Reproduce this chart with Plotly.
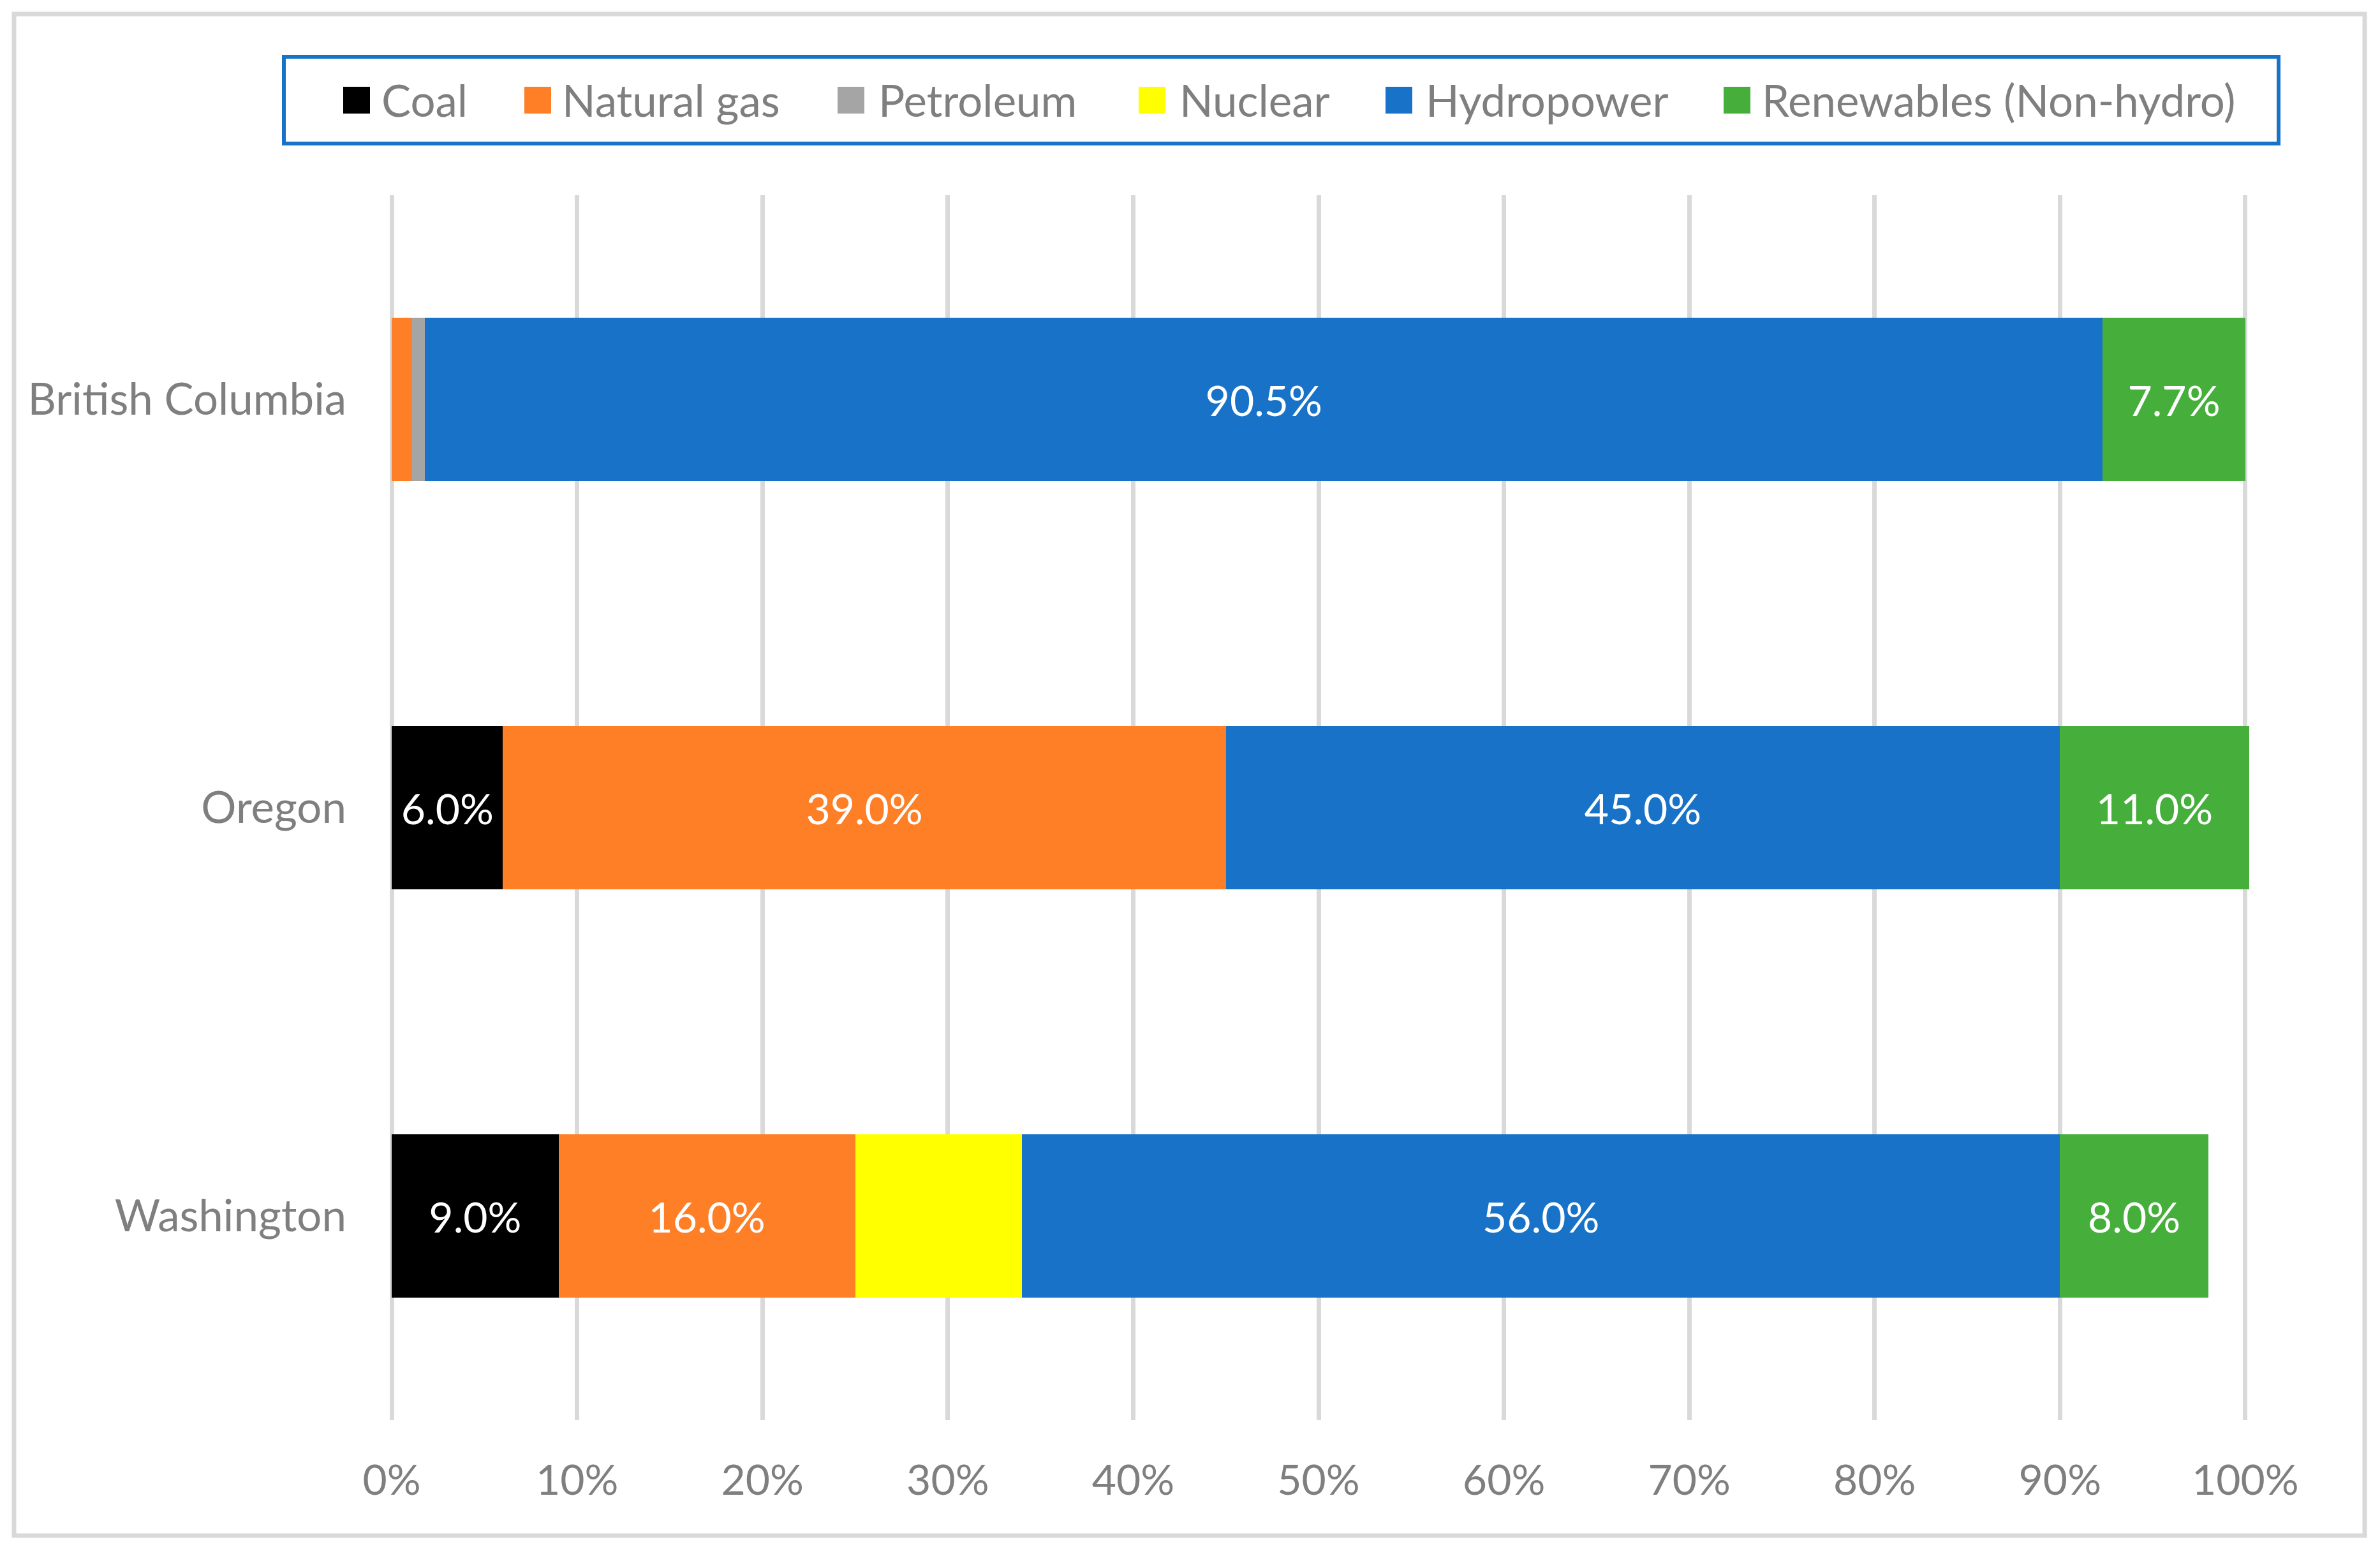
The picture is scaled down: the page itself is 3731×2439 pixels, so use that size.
import plotly.graph_objects as go

# ---------------- data ----------------
states = ["British Columbia", "Oregon", "Washington"]
sources = ["Coal", "Natural gas", "Petroleum", "Nuclear", "Hydropower", "Renewables (Non-hydro)"]

coal = [0.0, 6.0, 9.0]
natural_gas = [1.1, 39.0, 16.0]
petroleum = [0.7, 0.0, 0.0]
nuclear = [0.0, 0.0, 9.0]
hydropower = [90.5, 45.0, 56.0]
renewables = [7.7, 10.2, 8.0]

coal_labels = ["", "6.0%", "9.0%"]
natural_gas_labels = ["", "39.0%", "16.0%"]
petroleum_labels = ["", "", ""]
nuclear_labels = ["", "", ""]
hydropower_labels = ["90.5%", "45.0%", "56.0%"]
renewables_labels = ["7.7%", "11.0%", "8.0%"]

tick_values = [0, 10, 20, 30, 40, 50, 60, 70, 80, 90, 100]
tick_labels = ["0%", "10%", "20%", "30%", "40%", "50%", "60%", "70%", "80%", "90%", "100%"]

colors = ["#000000", "#FF7F27", "#A5A5A5", "#FFFF00", "#1873C8", "#46AF3C"]

# ---------------- layout constants ----------------
W, H = 3731, 2439
OFF = 8  # page body margin
ML, MR, MT, MB = 548, 161, 298, 221
PW, PH = W - ML - MR, H - MT - MB
FONT = "Lato"
FS = 66
FS_WORDS = 69
GREY = "#7F7F7F"


def px(xp):
    return (xp - OFF - ML) / PW


def py(yp):
    return (H - MB - (yp - OFF)) / PH


series = [coal, natural_gas, petroleum, nuclear, hydropower, renewables]
labels = [coal_labels, natural_gas_labels, petroleum_labels, nuclear_labels,
          hydropower_labels, renewables_labels]

fig = go.Figure()
for name, vals, lab, col in zip(sources, series, labels, colors):
    fig.add_trace(go.Bar(
        name=name, y=states, x=vals, orientation="h",
        marker=dict(color=col, line=dict(width=0)),
        text=lab, textposition="inside", insidetextanchor="middle",
        textangle=0, constraintext="none",
        textfont=dict(family=FONT, size=FS, color="white"),
        showlegend=False, hoverinfo="x+name",
    ))

# manual legend
legend_marker_x = [538, 822, 1313, 1785, 2172, 2702]
legend_text_x = [596, 879, 1375, 1847, 2233, 2760]
shapes = []
annotations = []
for name, col, mx, tx in zip(sources, colors, legend_marker_x, legend_text_x):
    shapes.append(dict(type="rect", xref="paper", yref="paper",
                       x0=px(mx), x1=px(mx + 42), y0=py(178), y1=py(136),
                       fillcolor=col, line=dict(width=0)))
    annotations.append(dict(text=name, xref="paper", yref="paper",
                            x=px(tx), y=py(157), xanchor="left", yanchor="middle",
                            showarrow=False,
                            font=dict(family=FONT, size=FS_WORDS, color=GREY)))
# legend box
shapes.append(dict(type="rect", xref="paper", yref="paper",
                   x0=px(445), x1=px(3572), y0=py(225), y1=py(89),
                   line=dict(color="#1873C8", width=6), fillcolor="rgba(0,0,0,0)"))
# outer chart border
shapes.append(dict(type="rect", xref="paper", yref="paper",
                   x0=px(22), x1=px(3707), y0=py(2407), y1=py(22),
                   line=dict(color="#D9D9D9", width=7), fillcolor="rgba(0,0,0,0)"))

fig.update_layout(
    width=W, height=H,
    margin=dict(l=ML, r=MR, t=MT, b=MB, pad=0),
    barmode="stack", bargap=0.6,
    paper_bgcolor="white", plot_bgcolor="white",
    font=dict(family=FONT, size=FS, color=GREY),
    shapes=shapes, annotations=annotations,
    showlegend=False,
    xaxis=dict(range=[-2, 102], tickvals=tick_values, ticktext=tick_labels,
               showgrid=True, gridcolor="#D9D9D9", gridwidth=7,
               zeroline=False, showline=False, ticks="",
               tickfont=dict(family=FONT, size=FS, color=GREY),
               ticklabelstandoff=50),
    yaxis=dict(categoryorder="array", categoryarray=states, autorange="reversed",
               showgrid=False, zeroline=False, showline=False, ticks="",
               tickfont=dict(family=FONT, size=FS_WORDS, color=GREY),
               ticklabelstandoff=12),
)

fig.write_html("out.html")
